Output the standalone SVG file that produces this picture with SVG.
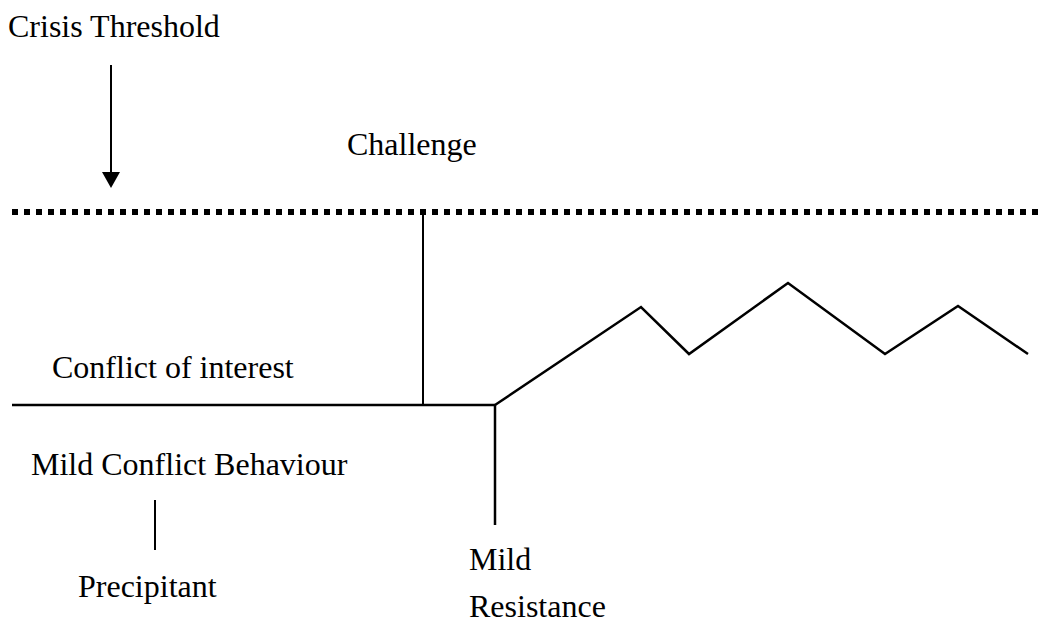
<svg xmlns="http://www.w3.org/2000/svg" width="1045" height="622" viewBox="0 0 1045 622">
  <style>
    .lbl { font-family: "Liberation Serif", "Times New Roman", serif; font-size: 32px; fill: #000; }
    .ln { stroke: #000; stroke-width: 2.5; fill: none; stroke-linejoin: miter; }
    .thin { stroke: #000; stroke-width: 2; fill: none; }
    .threshold { stroke: #000; stroke-width: 6; stroke-dasharray: 6 6; fill: none; }
  </style>
  <rect width="1045" height="622" fill="#fff"/>

  <!-- crisis threshold (dotted) -->
  <g id="threshold-line">
    <line class="threshold" x1="12" y1="212" x2="1042" y2="212"/>
  </g>

  <!-- labels -->
  <g id="crisis-threshold">
    <text class="lbl" x="8" y="37">Crisis Threshold</text>
  </g>
  <g id="challenge">
    <text class="lbl" x="347" y="155">Challenge</text>
  </g>
  <g id="conflict-of-interest">
    <text class="lbl" x="52" y="378">Conflict of interest</text>
  </g>
  <g id="mild-conflict-behaviour">
    <text class="lbl" x="31" y="475">Mild Conflict Behaviour</text>
  </g>
  <g id="precipitant">
    <text class="lbl" x="78" y="597">Precipitant</text>
  </g>
  <g id="mild-resistance">
    <text class="lbl" x="469" y="570">Mild</text>
    <text class="lbl" x="469" y="617">Resistance</text>
  </g>

  <!-- connectors -->
  <g id="connectors">
    <line class="thin" x1="111" y1="65" x2="111" y2="174"/>
    <polygon points="102,172 120,172 111,188" fill="#000"/>
    <line class="thin" x1="423" y1="212" x2="423" y2="405"/>
    <line class="ln" x1="12" y1="405" x2="495" y2="405"/>
    <polyline class="ln" points="495,405 641,307 689,354 788,283 885,354 958,306 1028,354"/>
    <line class="ln" x1="495" y1="405" x2="495" y2="525"/>
    <line class="thin" x1="155" y1="500" x2="155" y2="550"/>
  </g>
</svg>
